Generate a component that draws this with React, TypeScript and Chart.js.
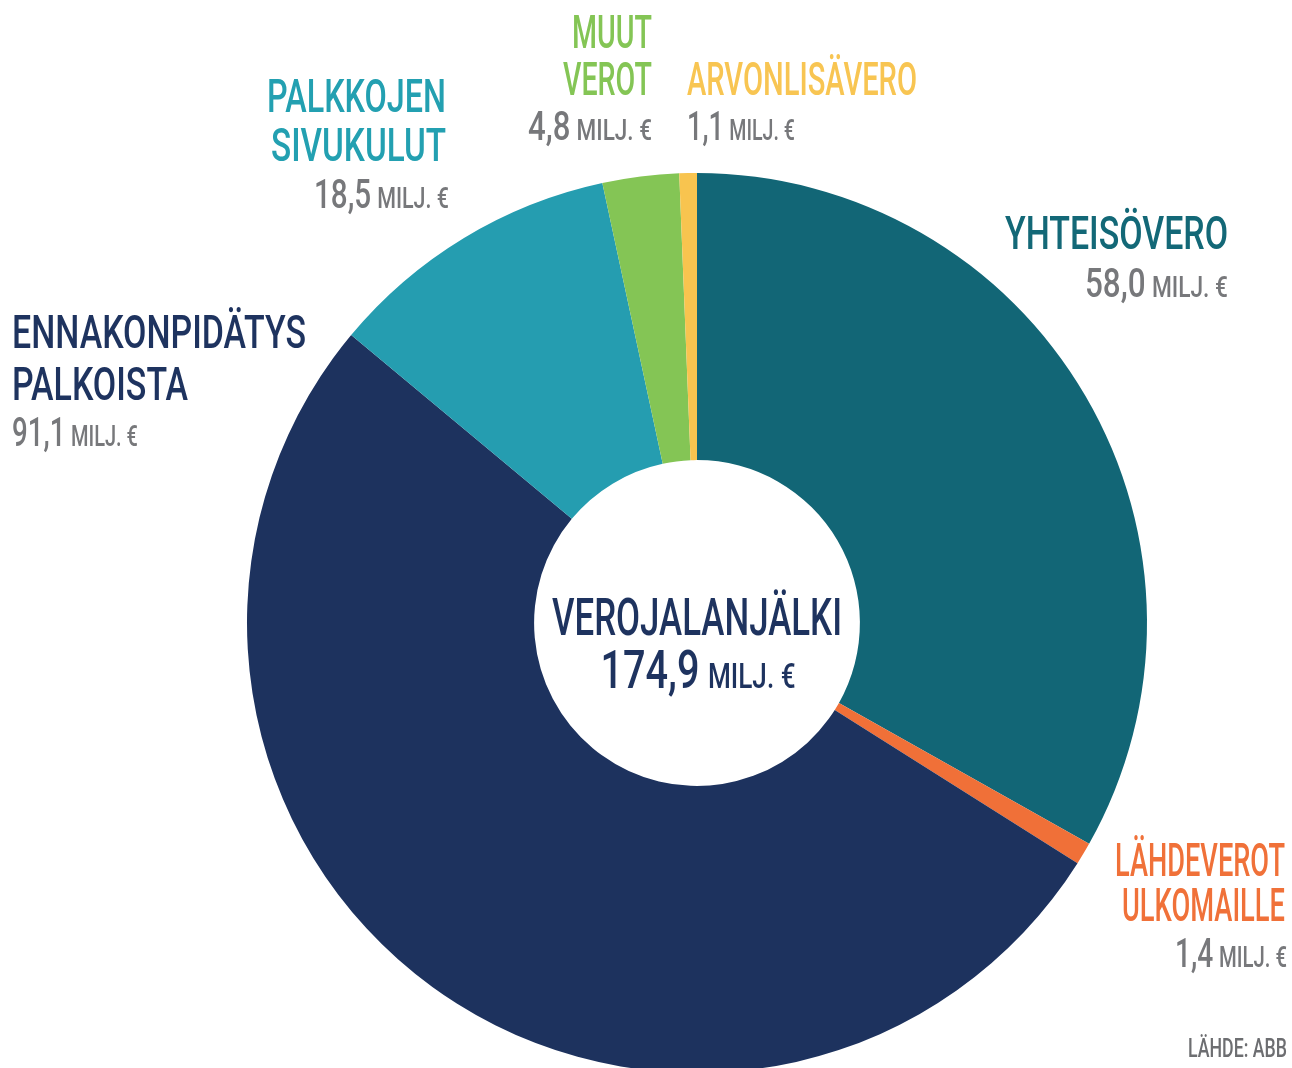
import React, { useEffect, useRef } from "react";
import { Chart, registerables } from "chart.js";

Chart.register(...registerables);

// ---- data ----
const categories = [
  "YHTEISÖVERO",
  "LÄHDEVEROT ULKOMAILLE",
  "ENNAKONPIDÄTYS PALKOISTA",
  "PALKKOJEN SIVUKULUT",
  "MUUT VEROT",
  "ARVONLISÄVERO",
];
const values = [58.0, 1.4, 91.1, 18.5, 4.8, 1.1];
const valueLabels = ["58,0", "1,4", "91,1", "18,5", "4,8", "1,1"];
const labelLines = [
  ["YHTEISÖVERO"],
  ["LÄHDEVEROT", "ULKOMAILLE"],
  ["ENNAKONPIDÄTYS", "PALKOISTA"],
  ["PALKKOJEN", "SIVUKULUT"],
  ["MUUT", "VEROT"],
  ["ARVONLISÄVERO"],
];
const sliceColors = ["#126676", "#F07038", "#1D325E", "#259DB0", "#84C555", "#F8C44F"];
const textColors = ["#136877", "#F07139", "#1E335F", "#23A0B1", "#84C555", "#F8C552"];
const unitLabel = "MILJ. €";
const centerTitle = "VEROJALANJÄLKI";
const centerValue = "174,9";
const sourceLabel = "LÄHDE: ABB";

// ---- layout (positions / widths of the text labels) ----
type LabelPos = {
  x: number;
  align: "left" | "right";
  baselines: number[];
  widths: number[];
  valueX: number;
  valueBaseline: number;
  valueWidth: number;
};
const labelPositions: LabelPos[] = [
  { x: 1228, align: "right", baselines: [249], widths: [223], valueX: 1228, valueBaseline: 297, valueWidth: 143 },
  { x: 1285, align: "right", baselines: [876, 921], widths: [170, 163], valueX: 1287, valueBaseline: 967, valueWidth: 112 },
  { x: 12, align: "left", baselines: [348, 400], widths: [294, 176], valueX: 12, valueBaseline: 446, valueWidth: 126 },
  { x: 446, align: "right", baselines: [112, 161], widths: [179, 175], valueX: 449, valueBaseline: 208, valueWidth: 135 },
  { x: 652, align: "right", baselines: [48, 95], widths: [80, 89], valueX: 652, valueBaseline: 140, valueWidth: 124 },
  { x: 687, align: "left", baselines: [95], widths: [230], valueX: 687, valueBaseline: 140, valueWidth: 108 },
];

const FONT = "Roboto, 'DejaVu Sans', sans-serif";
const CAP = 0.711;
const GRAY = "#77787B";

function fontFor(cap: number) {
  return `500 ${(cap / CAP).toFixed(1)}px ${FONT}`;
}

function natWidth(ctx: CanvasRenderingContext2D, text: string, cap: number) {
  ctx.font = fontFor(cap);
  return ctx.measureText(text).width;
}

function drawAt(ctx: CanvasRenderingContext2D, text: string, x: number, y: number, cap: number, color: string, sx: number) {
  ctx.save();
  ctx.font = fontFor(cap);
  ctx.fillStyle = color;
  ctx.textAlign = "left";
  ctx.textBaseline = "alphabetic";
  ctx.translate(x, y);
  ctx.scale(sx, 1);
  ctx.fillText(text, 0, 0);
  ctx.restore();
}

function drawFit(
  ctx: CanvasRenderingContext2D,
  text: string,
  x: number,
  y: number,
  cap: number,
  color: string,
  align: "left" | "right" | "center",
  width: number
) {
  const sx = width / natWidth(ctx, text, cap);
  const start = align === "left" ? x : align === "right" ? x - width : x - width / 2;
  drawAt(ctx, text, start, y, cap, color, sx);
}

function drawValue(
  ctx: CanvasRenderingContext2D,
  num: string,
  x: number,
  y: number,
  numCap: number,
  unitCap: number,
  gapRatio: number,
  color: string,
  align: "left" | "right" | "center",
  width: number
) {
  const w1 = natWidth(ctx, num, numCap);
  const w2 = natWidth(ctx, unitLabel, unitCap);
  const gap = numCap * gapRatio;
  const sx = width / (w1 + gap + w2);
  const start = align === "left" ? x : align === "right" ? x - width : x - width / 2;
  drawAt(ctx, num, start, y, numCap, color, sx);
  drawAt(ctx, unitLabel, start + (w1 + gap) * sx, y, unitCap, color, sx);
}

const labelPlugin = {
  id: "taxLabels",
  afterDraw(chart: Chart) {
    const ctx = chart.ctx;
    labelLines.forEach((lines, i) => {
      const p = labelPositions[i];
      lines.forEach((line, j) => {
        drawFit(ctx, line, p.x, p.baselines[j], 33, textColors[i], p.align, p.widths[j]);
      });
      drawValue(ctx, valueLabels[i], p.valueX, p.valueBaseline, 29, 21, 0.28, GRAY, p.align, p.valueWidth);
    });
    // centre
    const meta = chart.getDatasetMeta(0);
    const arc: any = meta.data[0];
    const cx = arc.x;
    const cy = arc.y;
    drawFit(ctx, centerTitle, cx, cy + 12, 37, "#1E335F", "center", 290);
    drawValue(ctx, centerValue, cx + 1, cy + 65, 38, 25, 0.3, "#1E335F", "center", 195);
    // source
    drawFit(ctx, sourceLabel, 1287, 1057, 19, "#6D6E71", "right", 99);
  },
};

export default function App() {
  const ref = useRef<HTMLCanvasElement | null>(null);
  useEffect(() => {
    document.body.style.margin = "0";
    const canvas = ref.current!;
    const chart = new Chart(canvas, {
      type: "doughnut",
      data: {
        labels: categories,
        datasets: [
          {
            data: values,
            backgroundColor: sliceColors,
            borderWidth: 0,
            hoverOffset: 0,
            offset: 0,
          },
        ],
      },
      options: {
        responsive: false,
        animation: false,
        devicePixelRatio: 1,
        cutout: "36.2%",
        events: [],
        layout: { padding: { left: 247, top: 173, right: 145, bottom: 7 } },
        plugins: {
          legend: { display: false },
          tooltip: { enabled: false },
        },
      },
      plugins: [labelPlugin],
    });
    return () => chart.destroy();
  }, []);
  return (
    <div style={{ position: "fixed", left: 0, top: 0, width: 1292, height: 1068, overflow: "hidden", background: "#fff" }}>
      <canvas ref={ref} width={1292} height={1080} style={{ display: "block", width: 1292, height: 1080 }} />
    </div>
  );
}
